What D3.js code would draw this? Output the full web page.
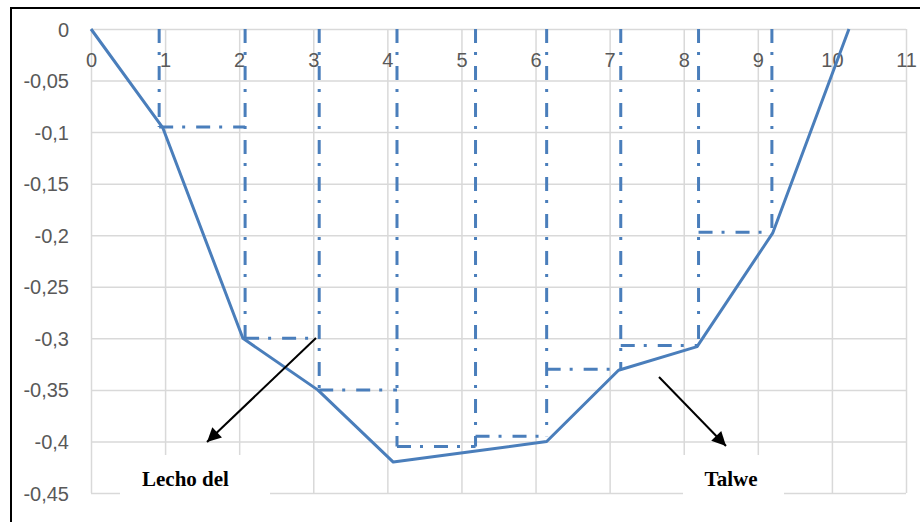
<!DOCTYPE html>
<html>
<head>
<meta charset="utf-8">
<script src="https://cdn.jsdelivr.net/npm/d3@7"></script>
<style>
  html, body { margin: 0; padding: 0; background: #fff; }
  svg { display: block; }
</style>
</head>
<body>
<svg id="chart" width="920" height="522"></svg>
<script>
// ---- data ----
const xTicks = [0, 1, 2, 3, 4, 5, 6, 7, 8, 9, 10, 11];
const xTickLabels = ["0", "1", "2", "3", "4", "5", "6", "7", "8", "9", "10", "11"];
const yTicks = [0, -0.05, -0.1, -0.15, -0.2, -0.25, -0.3, -0.35, -0.4, -0.45];
const yTickLabels = ["0", "-0,05", "-0,1", "-0,15", "-0,2", "-0,25", "-0,3", "-0,35", "-0,4", "-0,45"];

// solid profile (bed line)
const profileX = [0, 0.97, 2.05, 3.06, 4.08, 5.12, 6.15, 7.12, 8.18, 9.2, 10.23];
const profileY = [0, -0.096, -0.3, -0.35, -0.42, -0.41, -0.4, -0.331, -0.308, -0.198, 0];

// dash-dot step lines (verticals and levels between them)
const stepX = [0.92, 2.08, 3.08, 4.13, 5.19, 6.15, 7.15, 8.2, 9.19];
const stepLevels = [-0.095, -0.3, -0.35, -0.405, -0.395, -0.33, -0.307, -0.197];

// annotations
const labels = [
  { text: "Lecho del", x: 185.5, y: 486, box: [120, 455, 150, 45] },
  { text: "Talwe", x: 731, y: 486, box: [683, 455, 101, 45] }
];
const arrows = [
  { x1: 316, y1: 338, x2: 207, y2: 442 },
  { x1: 659, y1: 377, x2: 726, y2: 446 }
];

// ---- chart ----
const svg = d3.select("#chart");
const blue = "#4A7EBB";
const x = d3.scaleLinear().domain([0, 11]).range([91, 906]);
const y = d3.scaleLinear().domain([0, -0.45]).range([29, 493]);

// outer frame
svg.append("rect")
  .attr("x", 11).attr("y", 8).attr("width", 960).attr("height", 600)
  .attr("fill", "none").attr("stroke", "#000").attr("stroke-width", 2);

// gridlines
const gridY = svg.append("g").attr("transform", `translate(${x(0)},0)`)
  .call(d3.axisLeft(y).tickValues(yTicks).tickSize(-(x(11) - x(0))).tickFormat(""));
const gridX = svg.append("g").attr("transform", `translate(0,${y(-0.45)})`)
  .call(d3.axisBottom(x).tickValues(xTicks).tickSize(-(y(-0.45) - y(0))).tickFormat(""));
[gridY, gridX].forEach(g => {
  g.select(".domain").remove();
  g.selectAll("line").attr("stroke", "#d9d9d9").attr("stroke-width", 1.5);
});

// y labels
const yAx = svg.append("g").attr("transform", `translate(${x(0)},0)`)
  .call(d3.axisLeft(y).tickValues(yTicks).tickSize(0).tickPadding(22)
    .tickFormat((d, i) => yTickLabels[i]));
yAx.select(".domain").remove();
yAx.selectAll("text")
  .attr("font-family", "'Liberation Sans', Arial, sans-serif")
  .attr("font-size", 20).attr("fill", "#595959").attr("dy", "0.35em");

// x labels (at top, under the zero line)
const xAx = svg.append("g").attr("transform", `translate(0,${y(0)})`)
  .call(d3.axisBottom(x).tickValues(xTicks).tickSize(0)
    .tickFormat((d, i) => xTickLabels[i]));
xAx.select(".domain").remove();
xAx.selectAll("text")
  .attr("font-family", "'Liberation Sans', Arial, sans-serif")
  .attr("font-size", 20).attr("fill", "#595959")
  .attr("y", 31).attr("dy", "0.35em");

// dash-dot step lines
const dash = "14,9,3,11";
const stepG = svg.append("g").attr("fill", "none").attr("stroke", blue)
  .attr("stroke-width", 3).attr("stroke-dasharray", dash);
stepX.forEach((sx, i) => {
  const adj = [];
  if (i > 0) adj.push(stepLevels[i - 1]);
  if (i < stepLevels.length) adj.push(stepLevels[i]);
  const bottom = d3.min(adj);
  stepG.append("line")
    .attr("x1", x(sx)).attr("x2", x(sx))
    .attr("y1", y(0)).attr("y2", y(bottom));
});
stepLevels.forEach((lv, i) => {
  stepG.append("line")
    .attr("x1", x(stepX[i])).attr("x2", x(stepX[i + 1]))
    .attr("y1", y(lv)).attr("y2", y(lv));
});

// solid profile line
const pts = profileX.map((px, i) => [px, profileY[i]]);
svg.append("path")
  .datum(pts)
  .attr("fill", "none").attr("stroke", blue).attr("stroke-width", 3)
  .attr("stroke-linejoin", "round")
  .attr("d", d3.line().x(d => x(d[0])).y(d => y(d[1])));

// label boxes and text
labels.forEach(l => {
  svg.append("rect")
    .attr("x", l.box[0]).attr("y", l.box[1]).attr("width", l.box[2]).attr("height", l.box[3])
    .attr("fill", "#fff");
  svg.append("text")
    .attr("x", l.x).attr("y", l.y).attr("text-anchor", "middle")
    .attr("font-family", "'Liberation Serif', 'Times New Roman', serif")
    .attr("font-weight", "bold").attr("font-size", 21).attr("fill", "#000")
    .text(l.text);
});

// arrows
svg.append("defs").append("marker")
  .attr("id", "ah").attr("viewBox", "0 0 10 10")
  .attr("refX", 10).attr("refY", 5)
  .attr("markerWidth", 8).attr("markerHeight", 7)
  .attr("markerUnits", "strokeWidth")
  .attr("orient", "auto")
  .append("path").attr("d", "M0,0 L10,5 L0,10 Z").attr("fill", "#000");
arrows.forEach(a => {
  svg.append("line")
    .attr("x1", a.x1).attr("y1", a.y1).attr("x2", a.x2).attr("y2", a.y2)
    .attr("stroke", "#000").attr("stroke-width", 2)
    .attr("marker-end", "url(#ah)");
});
</script>
</body>
</html>
